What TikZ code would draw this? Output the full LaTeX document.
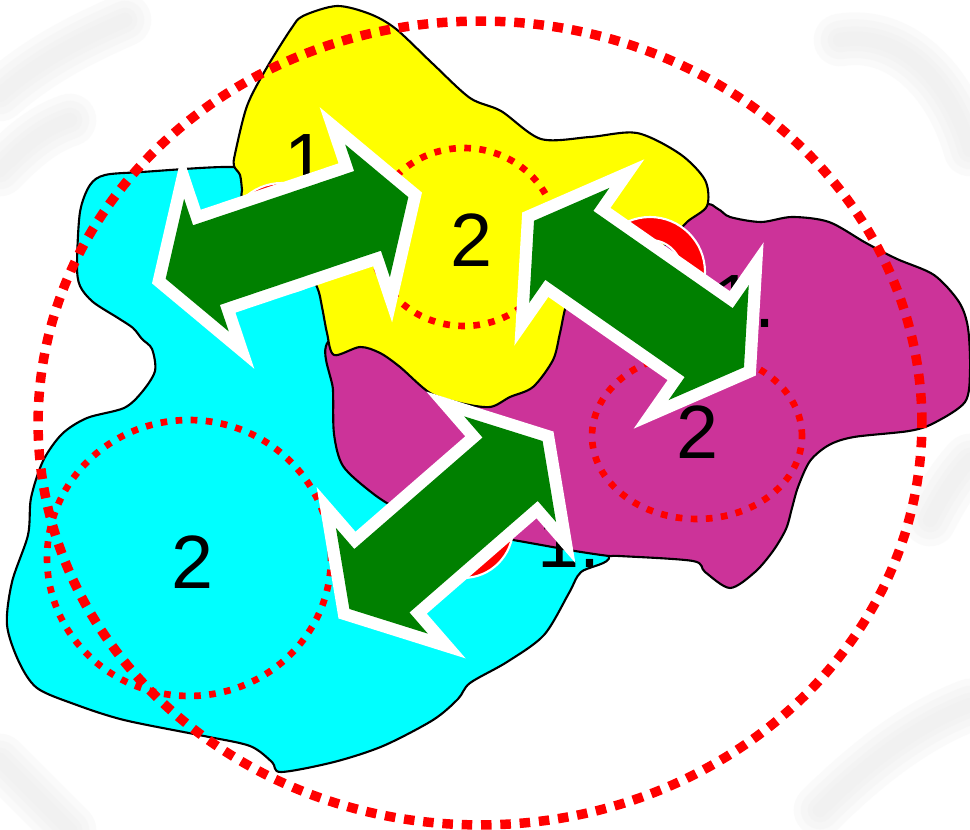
\documentclass[tikz,border=0pt]{standalone}
\usepackage{fontspec}
\setmainfont{Liberation Sans}
\definecolor{Lemon}{HTML}{FFFF00}
\definecolor{Aqua}{HTML}{00FFFF}
\definecolor{Orchid}{HTML}{CC3399}
\definecolor{Leaf}{HTML}{008000}
\definecolor{Signal}{HTML}{FF0000}
\definecolor{Haze}{HTML}{E8E8E8}
\tikzset{
  blob/.style={draw=black,line width=1.2pt,line join=round},
  zone/.style={draw=Signal,line width=3.8pt,dash pattern=on 3.8pt off 4.8pt},
  outerzone/.style={draw=Signal,line width=5.4pt,dash pattern=on 6pt off 5pt},
  contact/.style={fill=Signal,draw=white,line width=1.2pt,even odd rule},
  blockarrow/.style={fill=Leaf,preaction={draw=white,line width=14pt,line join=miter}},
  digit/.style={font=\fontsize{43}{48}\selectfont,inner sep=0pt},
  haze/.style={draw=Haze,line cap=round,line width=#1,opacity=0.18},
  dblarrow/.pic={
    \path[blockarrow] (128,0) -- (85,70) -- (85,42) -- (-85,42) -- (-85,70)
      -- (-128,0) -- (-85,-70) -- (-85,-42) -- (85,-42) -- (85,-70) -- cycle;
  }
}
\begin{document}
\begin{tikzpicture}[x=0.02cm,y=-0.02cm]
  \useasboundingbox (0,0) rectangle (970,830);
  \fill[white] (0,0) rectangle (970,830);

  % soft background streaks
  \foreach \w in {30,22,14,8} {
    \draw[haze=\w pt] (0,95) .. controls (40,60) and (80,40) .. (125,20);
    \draw[haze=\w pt] (0,170) .. controls (20,150) and (40,130) .. (70,120);
    \draw[haze=\w pt] (840,40) .. controls (900,30) and (950,80) .. (970,150);
    \draw[haze=\w pt] (930,520) .. controls (945,490) and (960,470) .. (970,460);
    \draw[haze=\w pt] (820,810) .. controls (880,750) and (930,720) .. (970,705);
    \draw[haze=\w pt] (0,760) .. controls (30,790) and (50,810) .. (70,830);
  }

  % regions
  \path[blob,fill=Aqua] plot[smooth cycle,tension=0.5] coordinates {
    (80,212) (90,185) (105,175) (142,172) (229,167) (270,175) (330,240)
    (360,330) (380,420) (450,480) (560,515) (609,556) (581,572) (569,593)
    (544,635) (507,662) (470,683) (458,699) (433,720) (383,746) (334,762)
    (281,772) (272,762) (250,746) (204,736) (124,720) (74,704) (37,688)
    (19,662) (7,625) (12,582) (28,535) (31,498) (43,461) (62,434) (87,418)
    (124,408) (142,392) (155,371) (152,349) (142,339) (133,328) (118,318)
    (93,302) (80,286) (77,265)};
  \path[blob,fill=Orchid] plot[smooth cycle,tension=0.5] coordinates {
    (330,340) (420,325) (520,285) (620,232) (700,205) (718,209) (730,217)
    (761,222) (792,217) (829,222) (866,243) (897,259) (934,275) (959,302)
    (968,328) (970,371) (965,402) (934,423) (909,431) (854,437) (829,445)
    (810,461) (798,487) (792,508) (786,529) (773,551) (755,572) (730,588)
    (705,572) (693,561) (619,556) (609,556) (575,551) (513,540) (445,529)
    (396,508) (371,492) (343,466) (334,434) (333,390)};
  \path[blob,fill=Lemon] plot[smooth cycle,tension=0.5] coordinates {
    (235,154) (247,106) (266,69) (291,29) (303,16) (337,6) (370,14) (396,29)
    (433,64) (470,98) (501,111) (541,139) (590,137) (637,133) (680,154)
    (705,180) (707,206) (687,222) (665,245) (620,270) (580,290) (567,303)
    (560,333) (553,360) (533,387) (510,397) (490,407) (460,403) (430,393)
    (400,367) (380,353) (360,347) (334,355) (327,333) (322,307) (317,287)
    (300,260) (265,230) (243,200) (242,190) (240,175) (234,166)};

  % dotted zones
  \draw[zone] (464,237) ellipse [x radius=1.86cm,y radius=1.78cm];
  \draw[zone] (189,558) ellipse [x radius=2.84cm,y radius=2.76cm];
  \draw[zone] (697,436) ellipse [x radius=2.1cm,y radius=1.66cm];
  \draw[outerzone] (480,423) ellipse [x radius=8.84cm,y radius=8.04cm];

  % labels
  \node[digit] (twoY) at (472,240) {2};
  \node[digit] (twoC) at (193,562) {2};
  \node[digit] (twoM) at (697,432) {2};
  \node[digit,anchor=base west] (oneY) at (284,187) {1};
  \node[digit,anchor=base west] (oneB) at (537,568) {1.};
  \node[digit,anchor=base west] (oneM) at (712,328) {1.};

  % contacts
  \path[contact] (282,238) circle [radius=1.1cm] circle [radius=0.64cm];
  \path[contact] (650,272) circle [radius=1.1cm] circle [radius=0.64cm];
  \path[contact] (463,528) circle [radius=1.0cm] circle [radius=0.6cm];

  % exchange arrows
  \pic[rotate=18.6] (arrA) at (287,238) {dblarrow};
  \pic[rotate=-34.9] (arrB) at (639,294) {dblarrow};
  \pic[rotate=41] (arrC) at (446,525) {dblarrow};
\end{tikzpicture}
\end{document}
